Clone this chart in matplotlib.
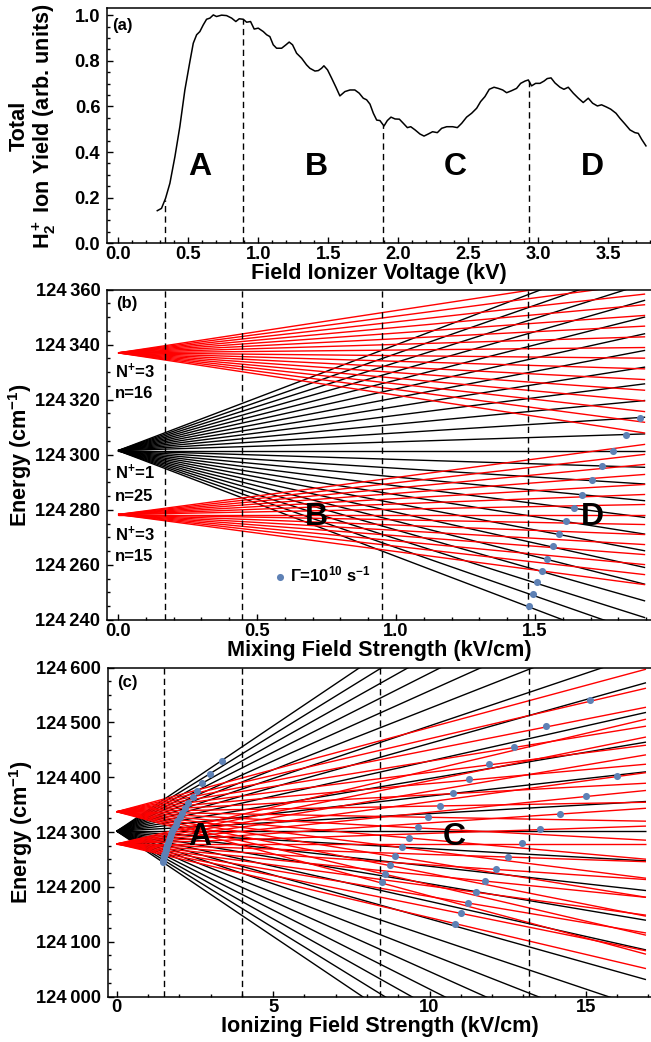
import numpy as np
import matplotlib
matplotlib.use("Agg")
import matplotlib.pyplot as plt
from matplotlib.ticker import MultipleLocator, FuncFormatter

plt.rcParams['font.family'] = ['Liberation Sans', 'DejaVu Sans']
plt.rcParams['font.weight'] = 'bold'
plt.rcParams['mathtext.fontset'] = 'custom'
plt.rcParams['mathtext.rm'] = 'Liberation Sans:bold'
plt.rcParams['mathtext.bf'] = 'Liberation Sans:bold'
plt.rcParams['mathtext.it'] = 'Liberation Sans:bold'
plt.rcParams['mathtext.default'] = 'bf'

# ---------------- data ----------------
# (a) total H2+ ion yield vs field ionizer voltage
volt_a = [0.279, 0.309, 0.338, 0.369, 0.405, 0.440, 0.476, 0.512, 0.536, 0.560,
          0.583, 0.607, 0.631, 0.655, 0.679, 0.702, 0.738, 0.774, 0.810, 0.840,
          0.864, 0.893, 0.917, 0.945, 0.971, 1.000, 1.036, 1.060, 1.083, 1.107,
          1.131, 1.167, 1.198, 1.221, 1.245, 1.274, 1.310, 1.345, 1.369, 1.405,
          1.429, 1.452, 1.469, 1.495, 1.524, 1.555, 1.583, 1.619, 1.655, 1.690,
          1.721, 1.750, 1.774, 1.798, 1.822, 1.846, 1.869, 1.898, 1.922, 1.948,
          1.977, 2.008, 2.036, 2.065, 2.089, 2.120, 2.155, 2.184, 2.214, 2.245,
          2.279, 2.310, 2.346, 2.388, 2.422, 2.453, 2.488, 2.524, 2.560, 2.588,
          2.619, 2.650, 2.684, 2.714, 2.746, 2.774, 2.810, 2.845, 2.874, 2.905,
          2.929, 2.952, 2.981, 3.012, 3.041, 3.064, 3.091, 3.119, 3.155, 3.183,
          3.214, 3.250, 3.286, 3.321, 3.357, 3.388, 3.422, 3.452, 3.488, 3.517,
          3.555, 3.583, 3.619, 3.655, 3.690, 3.714, 3.738, 3.769]
yield_a = [0.143, 0.153, 0.197, 0.263, 0.380, 0.511, 0.672, 0.797, 0.877, 0.914,
           0.928, 0.957, 0.982, 0.987, 1.001, 0.994, 1.000, 0.998, 0.987, 0.972,
           0.984, 0.982, 0.969, 0.972, 0.939, 0.943, 0.928, 0.914, 0.906, 0.870,
           0.855, 0.855, 0.870, 0.882, 0.870, 0.833, 0.811, 0.782, 0.767, 0.755,
           0.757, 0.767, 0.778, 0.760, 0.724, 0.684, 0.646, 0.665, 0.672, 0.672,
           0.658, 0.636, 0.629, 0.610, 0.570, 0.540, 0.538, 0.514, 0.538, 0.553,
           0.545, 0.544, 0.526, 0.507, 0.511, 0.497, 0.479, 0.470, 0.479, 0.489,
           0.485, 0.504, 0.511, 0.511, 0.507, 0.526, 0.553, 0.570, 0.592, 0.621,
           0.643, 0.675, 0.684, 0.679, 0.672, 0.660, 0.669, 0.679, 0.701, 0.711,
           0.716, 0.690, 0.701, 0.701, 0.711, 0.722, 0.725, 0.703, 0.684, 0.675,
           0.684, 0.658, 0.636, 0.617, 0.636, 0.614, 0.602, 0.607, 0.597, 0.588,
           0.570, 0.548, 0.523, 0.497, 0.485, 0.482, 0.456, 0.427]
region_labels = ['A', 'B', 'C', 'D']
region_x_a = [0.583, 1.417, 2.405, 3.388]
dash_a = [0.334, 0.889, 1.893, 2.934]

# Stark manifolds: zero-field energies (cm^-1) and slopes (cm^-1 per kV/cm)
center_N1_n25 = 124301.5
slopes_N1_n25 = [-38.4, -35.2, -32.0, -28.8, -25.6, -22.4, -19.2, -16.0, -12.8,
                 -9.6, -6.4, -3.2, 0.0, 3.2, 6.4, 9.6, 12.8, 16.0, 19.2, 22.4,
                 25.6, 28.8, 32.0, 35.2, 38.4]
center_N3_n16 = 124337.0
slopes_N3_n16 = [-15.36, -13.31, -11.26, -9.22, -7.17, -5.12, -3.07, -1.02,
                 1.02, 3.07, 5.12, 7.17, 9.22, 11.26, 13.31, 15.36]
center_N3_n15 = 124278.3
slopes_N3_n15 = [-13.44, -11.52, -9.60, -7.68, -5.76, -3.84, -1.92, 0.0,
                 1.92, 3.84, 5.76, 7.68, 9.60, 11.52, 13.44]

# ionization points (field kV/cm, energy cm^-1), rate 1e10 s^-1
ion_field = [1.480, 1.492, 1.507, 1.524, 1.543, 1.564, 1.586, 1.612, 1.640, 1.670,
             1.704, 1.741, 1.782, 1.827, 1.879, 1.94, 2.01, 2.09, 2.18, 2.29,
             2.44, 2.57, 2.74, 2.98, 3.35,
             8.47, 8.57, 8.73, 8.91, 9.11, 9.35, 9.62, 9.95, 10.32, 10.76,
             11.27, 11.91, 12.70, 13.71, 15.12,
             10.82, 11.00, 11.22, 11.47, 11.77, 12.11, 12.50, 12.97, 13.53,
             14.18, 14.99, 15.98]
ion_energy = [124245.2, 124249.4, 124253.7, 124257.9, 124262.2, 124266.7, 124271.2,
              124275.8, 124280.6, 124285.5, 124290.7, 124295.9, 124301.4, 124307.2,
              124313.4, 124320.0, 124327.0, 124335.0, 124343.4, 124352.8,
              124364.0, 124375.0, 124389.0, 124406.0, 124430.0,
              124208.8, 124223.9, 124239.1, 124255.6, 124272.8, 124289.8, 124308.6,
              124328.2, 124348.3, 124371.5, 124396.3, 124423.8, 124455.6,
              124493.2, 124540.8,
              124132.5, 124151.4, 124170.9, 124190.5, 124210.6, 124231.8,
              124255.0, 124279.4, 124304.9, 124333.6, 124366.0, 124402.6]

dash_b = [0.169, 0.447, 0.95, 1.474]
dash_c = [1.50, 4.00, 8.41, 13.18]
field_max_b = 1.896
field_max_c = 16.92

BLUE = '#5E81B5'
W, H = 651, 1042
LABEL_FS = 15.6
TICK_FS = 13.2
fig = plt.figure(figsize=(W / 100, H / 100), dpi=100)


def add_ax(left, top, bottom):
    return fig.add_axes([left / W, 1 - bottom / H, (W - left) / W, (bottom - top) / H])


def style(ax):
    ax.spines['right'].set_visible(False)
    for s in ['left', 'bottom', 'top']:
        ax.spines[s].set_linewidth(1.1)
    ax.tick_params(which='both', direction='in', top=False, right=False,
                   labelsize=TICK_FS, width=1.0)
    ax.tick_params(which='major', length=4)
    ax.tick_params(which='minor', length=2.2)
    ax.tick_params(axis='y', pad=5)
    ax.tick_params(axis='x', pad=2)
    for t in ax.get_xticklabels() + ax.get_yticklabels():
        t.set_fontweight('bold')


def energy_fmt(v, pos):
    v = int(round(v))
    return f"{v // 1000}\u2009{v % 1000:03d}"


dash_kw = dict(color='black', lw=1.0, dashes=(4.5, 3))

# ---------------- (a) ----------------
ax = add_ax(107.3, 8.3, 243.3)
ax.plot(volt_a, yield_a, color='black', lw=1.1)
for xv in dash_a:
    ax.plot([xv, xv], [0, np.interp(xv, volt_a, yield_a)], **dash_kw)
ax.set_xlim(-0.078, 3.805)
ax.set_ylim(0, 1.03)
ax.xaxis.set_major_locator(MultipleLocator(0.5))
ax.xaxis.set_minor_locator(MultipleLocator(0.1))
ax.yaxis.set_major_locator(MultipleLocator(0.2))
ax.yaxis.set_minor_locator(MultipleLocator(0.05))
ax.xaxis.set_major_formatter(FuncFormatter(lambda v, p: f"{v:.1f}"))
ax.yaxis.set_major_formatter(FuncFormatter(lambda v, p: f"{v:.1f}"))
style(ax)
ax.set_xlabel('Field Ionizer Voltage (kV)', fontsize=LABEL_FS, fontweight='bold', labelpad=0)
for lab, xv in zip(region_labels, region_x_a):
    ax.text(xv, 0.30, lab, fontsize=23, fontweight='bold', ha='center', va='baseline')
ax.text(0.008, 0.925, '(a)', transform=ax.transAxes, fontsize=12, fontweight='bold',
        ha='left', va='center')
fig.text(33 / W, 1 - 126 / H, 'Total\n' + r'H$_2^+$ Ion Yield (arb. units)', rotation=90,
         fontsize=LABEL_FS, fontweight='bold', ha='center', va='center',
         multialignment='center', linespacing=1.05)


def stark(ax, fmax):
    for sl in slopes_N1_n25:
        ax.plot([0, fmax], [center_N1_n25, center_N1_n25 + sl * fmax],
                color='black', lw=1.0, solid_capstyle='butt')
    for c, sls in [(center_N3_n16, slopes_N3_n16), (center_N3_n15, slopes_N3_n15)]:
        for sl in sls:
            ax.plot([0, fmax], [c, c + sl * fmax], color='#FF0000', lw=1.0,
                    solid_capstyle='butt')


# ---------------- (b) ----------------
ax = add_ax(107.3, 289.5, 620)
stark(ax, field_max_b)
for xv in dash_b:
    ax.axvline(xv, **dash_kw)
sc = ax.scatter(ion_field, ion_energy, s=26, color=BLUE, zorder=5, linewidths=0,
                label=r'$\Gamma$=10$^{10}$ s$^{-1}$')
ax.set_xlim(-0.0385, 1.917)
ax.set_ylim(124240, 124360)
ax.xaxis.set_major_locator(MultipleLocator(0.5))
ax.xaxis.set_minor_locator(MultipleLocator(0.1))
ax.yaxis.set_major_locator(MultipleLocator(20))
ax.yaxis.set_minor_locator(MultipleLocator(5))
ax.xaxis.set_major_formatter(FuncFormatter(lambda v, p: f"{v:.1f}"))
ax.yaxis.set_major_formatter(FuncFormatter(energy_fmt))
style(ax)
ax.set_xlabel('Mixing Field Strength (kV/cm)', fontsize=LABEL_FS, fontweight='bold', labelpad=0)
ax.set_ylabel(r'Energy (cm$^{-1}$)', fontsize=LABEL_FS, fontweight='bold', labelpad=1)
ax.text(0.017, 0.957, '(b)', transform=ax.transAxes, fontsize=12, fontweight='bold',
        ha='left', va='center')
for txt, yv in [(r'N$^{+}$=3', 124330.2), ('n=16', 124322.3), (r'N$^{+}$=1', 124293.5),
                ('n=25', 124285.0), (r'N$^{+}$=3', 124271.2), ('n=15', 124263.0)]:
    ax.text(-0.011, yv, txt, fontsize=12, fontweight='bold', ha='left', va='center')
ax.text(0.715, 124274.5, 'B', fontsize=23, fontweight='bold', ha='center', va='baseline')
ax.text(1.708, 124274.5, 'D', fontsize=23, fontweight='bold', ha='center', va='baseline')
leg = ax.legend(handles=[sc], loc='center left', bbox_to_anchor=(0.305, 0.138),
                frameon=False, fontsize=12, handlelength=0.8, handletextpad=0.2,
                borderpad=0, borderaxespad=0, scatterpoints=1)
for t in leg.get_texts():
    t.set_fontweight('bold')

# ---------------- (c) ----------------
ax = add_ax(108, 667.5, 996.5)
stark(ax, field_max_c)
for xv in dash_c:
    ax.axvline(xv, **dash_kw)
ax.scatter(ion_field, ion_energy, s=26, color=BLUE, zorder=5, linewidths=0)
ax.set_xlim(-0.28, 17.08)
ax.set_ylim(124000, 124600)
ax.xaxis.set_major_locator(MultipleLocator(5))
ax.xaxis.set_minor_locator(MultipleLocator(1))
ax.yaxis.set_major_locator(MultipleLocator(100))
ax.yaxis.set_minor_locator(MultipleLocator(25))
ax.yaxis.set_major_formatter(FuncFormatter(energy_fmt))
style(ax)
ax.set_xlabel('Ionizing Field Strength (kV/cm)', fontsize=LABEL_FS, fontweight='bold', labelpad=0)
ax.set_ylabel(r'Energy (cm$^{-1}$)', fontsize=LABEL_FS, fontweight='bold', labelpad=1)
ax.text(0.017, 0.955, '(c)', transform=ax.transAxes, fontsize=12, fontweight='bold',
        ha='left', va='center')
ax.text(2.64, 124277, 'A', fontsize=23, fontweight='bold', ha='center', va='baseline')
ax.text(10.78, 124277, 'C', fontsize=23, fontweight='bold', ha='center', va='baseline')

fig.savefig('out.png', dpi=100)
